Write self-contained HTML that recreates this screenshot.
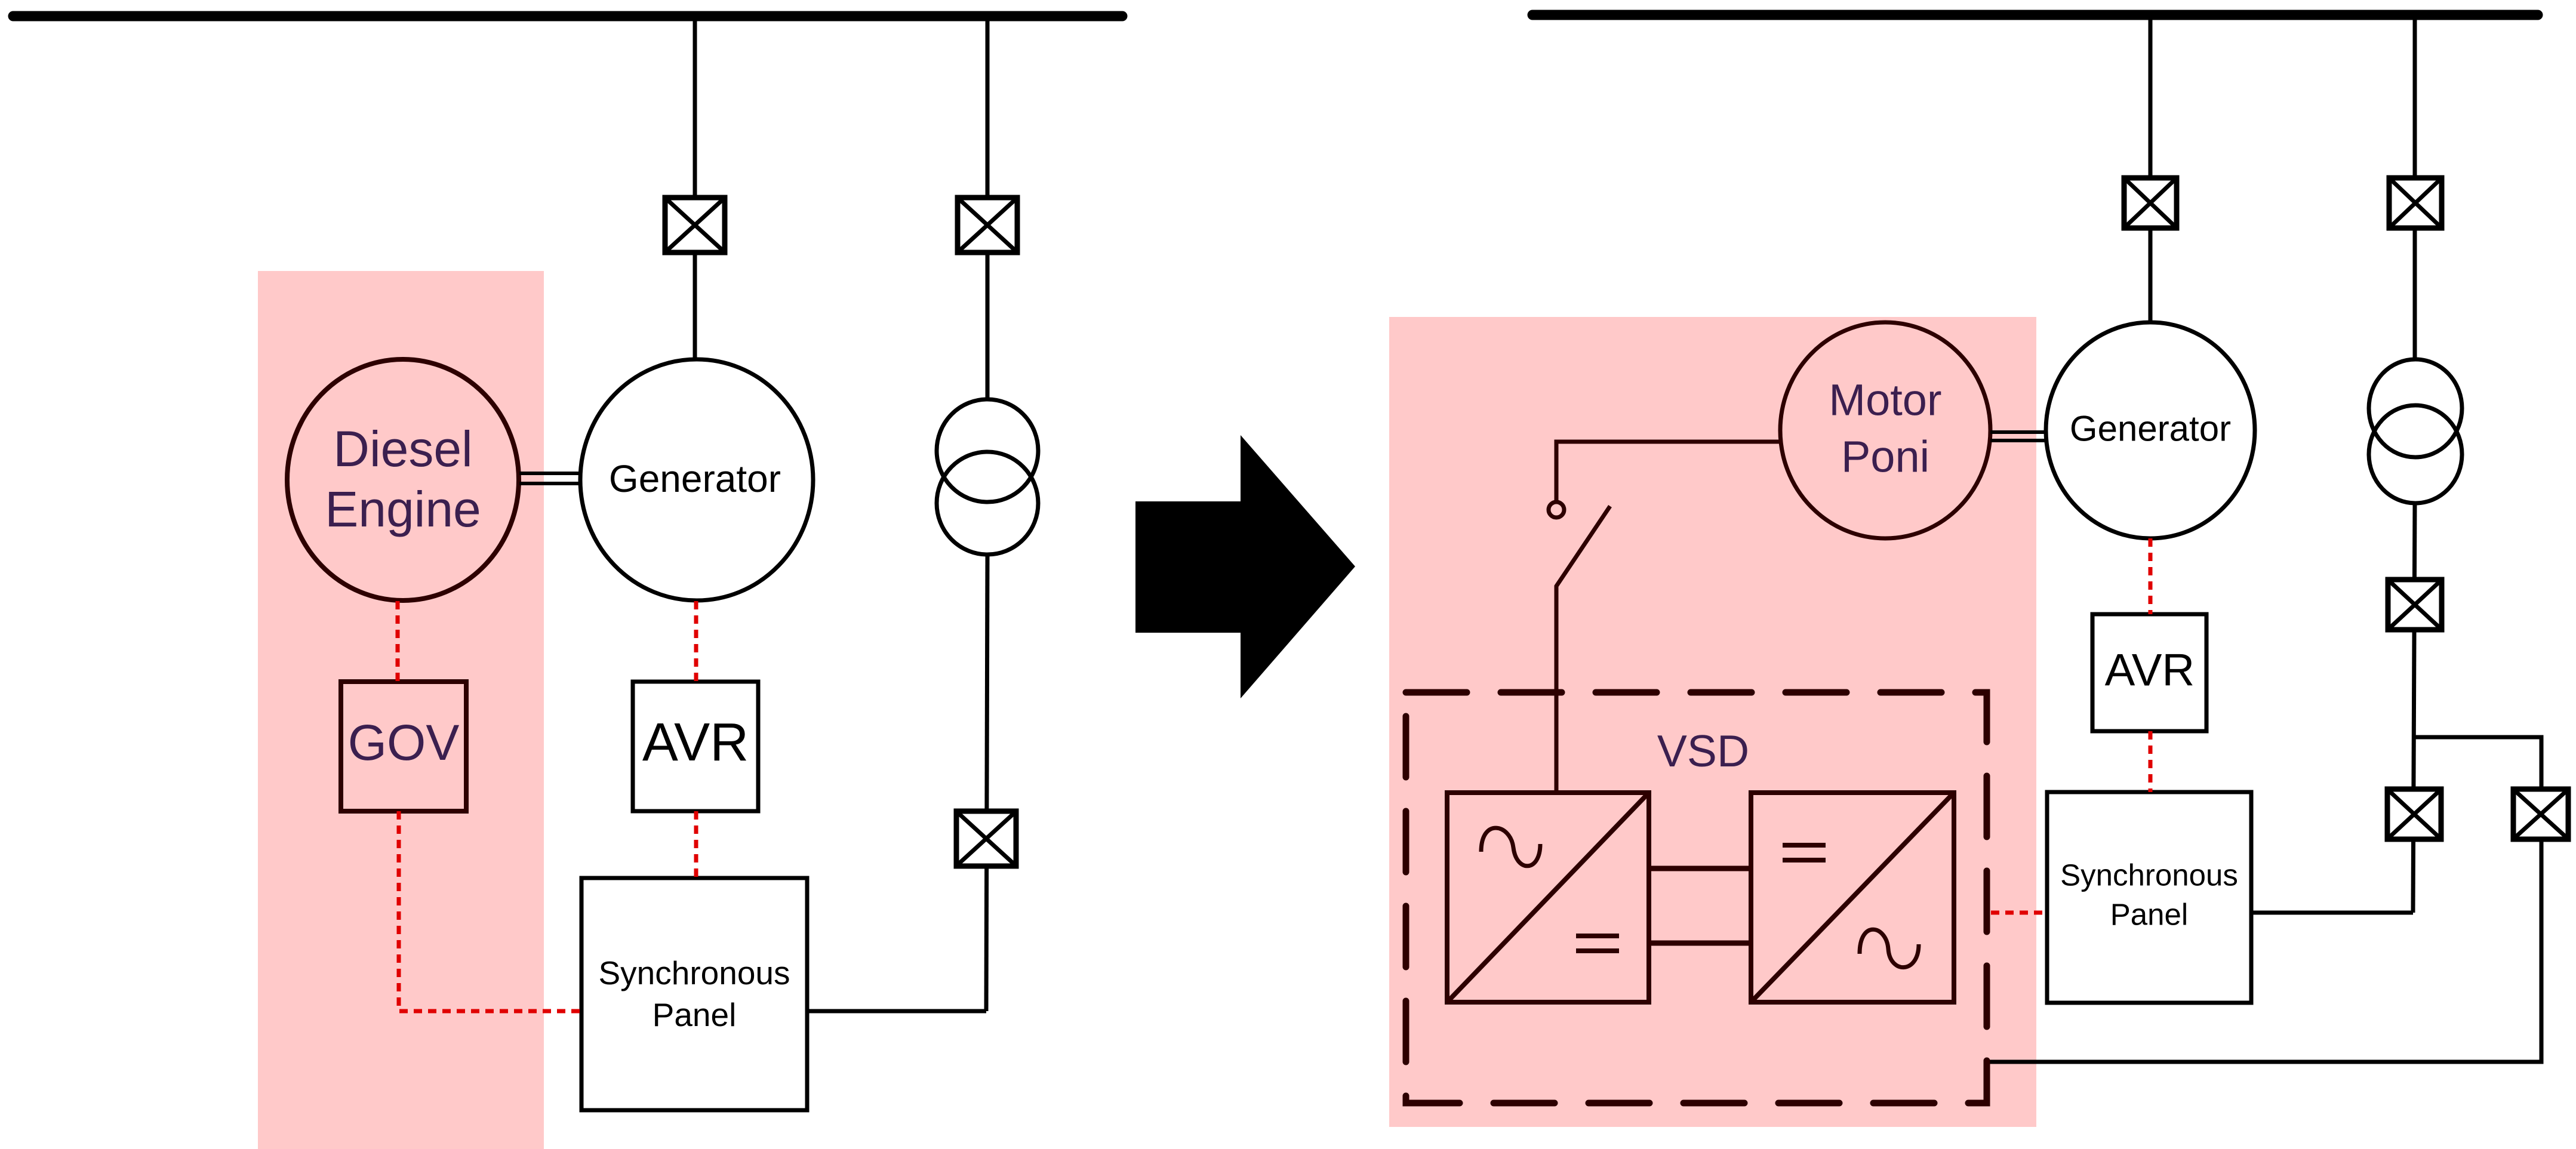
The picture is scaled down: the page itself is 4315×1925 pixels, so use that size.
<!DOCTYPE html>
<html><head><meta charset="utf-8"><style>
html,body{margin:0;padding:0;background:#fff;}
svg{display:block;}
text{font-family:"Liberation Sans",Arial,sans-serif;text-anchor:middle;dominant-baseline:central;}
</style></head><body>
<svg width="4315" height="1925" viewBox="0 0 4315 1925" xmlns="http://www.w3.org/2000/svg">
<rect x="432" y="454" width="479" height="1471" fill="#ffc9c9"/>
<rect x="2327" y="531" width="1084" height="1357" fill="#ffc9c9"/>

<line x1="22" y1="27" x2="1880" y2="27" stroke="#000" stroke-width="17" stroke-linecap="round"/>
<g stroke="#000" stroke-width="7" fill="none">
  <line x1="1164" y1="27" x2="1164" y2="602"/>
  <line x1="1654" y1="27" x2="1654" y2="669"/>
  <line x1="1654" y1="929" x2="1652" y2="1694"/>
  <line x1="1652" y1="1694" x2="1352" y2="1694"/>
  <rect x="1114" y="331" width="100" height="92" fill="#fff" stroke-width="9"/>
  <line x1="1118" y1="335" x2="1210" y2="419"/><line x1="1210" y1="335" x2="1118" y2="419"/>
  <rect x="1604" y="331" width="100" height="92" fill="#fff" stroke-width="9"/>
  <line x1="1608" y1="335" x2="1700" y2="419"/><line x1="1700" y1="335" x2="1608" y2="419"/>
  <rect x="1602" y="1359" width="100" height="92" fill="#fff" stroke-width="9"/>
  <line x1="1606" y1="1363" x2="1698" y2="1447"/><line x1="1698" y1="1363" x2="1606" y2="1447"/>
  <ellipse cx="1654" cy="755" rx="85" ry="86"/>
  <ellipse cx="1654" cy="843" rx="85" ry="86"/>
  <ellipse cx="1167" cy="804" rx="195" ry="202" fill="#fff"/>
  <rect x="1060" y="1142" width="210" height="217" fill="#fff"/>
  <rect x="974" y="1471" width="378" height="389" fill="#fff"/>
</g>
<ellipse cx="675" cy="804" rx="194" ry="202" fill="#ffc9c9" stroke="#2d0000" stroke-width="8"/>
<line x1="870" y1="793" x2="971" y2="793" stroke="#000" stroke-width="6"/>
<line x1="870" y1="810" x2="971" y2="810" stroke="#000" stroke-width="6"/>
<rect x="571" y="1142" width="210" height="217" fill="none" stroke="#2d0000" stroke-width="8"/>
<g stroke="#e00000" stroke-width="7" stroke-dasharray="14 10" fill="none">
  <line x1="666" y1="1007" x2="666" y2="1142"/>
  <line x1="1166" y1="1007" x2="1166" y2="1142"/>
  <line x1="1166" y1="1359" x2="1166" y2="1471"/>
  <polyline points="668,1359 668,1694 974,1694"/>
</g>
<text x="675" y="752" font-size="84" fill="#3b1f4f">Diesel</text>
<text x="675" y="853" font-size="84" fill="#3b1f4f">Engine</text>
<text x="1164" y="802" font-size="64" fill="#000">Generator</text>
<text x="676" y="1244" font-size="84" fill="#3b1f4f">GOV</text>
<text x="1165" y="1244" font-size="90" fill="#000">AVR</text>
<text x="1163" y="1630" font-size="55" fill="#000">Synchronous</text>
<text x="1163" y="1700" font-size="55" fill="#000">Panel</text>

<polygon points="1902,840 2078,840 2078,729 2270,949 2078,1170 2078,1060 1902,1060" fill="#000"/>

<line x1="2567" y1="25" x2="4251" y2="25" stroke="#000" stroke-width="17" stroke-linecap="round"/>
<g stroke="#000" stroke-width="7" fill="none">
  <line x1="3602" y1="25" x2="3602" y2="540"/>
  <line x1="4045" y1="25" x2="4045" y2="602"/>
  <line x1="4045" y1="841" x2="4042" y2="1529"/>
  <line x1="4042" y1="1529" x2="3771" y2="1529"/>
  <polyline points="4042,1235 4257,1235 4257,1779 3329,1779 3329,1848"/>
  <rect x="3558" y="298" width="88" height="84" fill="#fff" stroke-width="9"/>
  <line x1="3562" y1="302" x2="3642" y2="378"/><line x1="3642" y1="302" x2="3562" y2="378"/>
  <rect x="4002" y="298" width="88" height="84" fill="#fff" stroke-width="9"/>
  <line x1="4006" y1="302" x2="4086" y2="378"/><line x1="4086" y1="302" x2="4006" y2="378"/>
  <rect x="4000" y="971" width="90" height="84" fill="#fff" stroke-width="9"/>
  <line x1="4004" y1="975" x2="4086" y2="1051"/><line x1="4086" y1="975" x2="4004" y2="1051"/>
  <rect x="3999" y="1322" width="90" height="84" fill="#fff" stroke-width="9"/>
  <line x1="4003" y1="1326" x2="4085" y2="1402"/><line x1="4085" y1="1326" x2="4003" y2="1402"/>
  <rect x="4210" y="1322" width="92" height="84" fill="#fff" stroke-width="9"/>
  <line x1="4214" y1="1326" x2="4298" y2="1402"/><line x1="4298" y1="1326" x2="4214" y2="1402"/>
  <ellipse cx="4046" cy="684" rx="78" ry="82"/>
  <ellipse cx="4046" cy="761" rx="78" ry="82"/>
  <ellipse cx="3602" cy="721" rx="175" ry="181" fill="#fff"/>
  <rect x="3505" y="1029" width="191" height="196" fill="#fff"/>
  <rect x="3429" y="1327" width="342" height="353" fill="#fff"/>
</g>
<g stroke="#2d0000" stroke-width="7" fill="none">
  <ellipse cx="3158" cy="721" rx="176" ry="181" fill="#ffc9c9"/>
  <polyline points="2982,740 2607,740 2607,841"/>
  <circle cx="2607" cy="854" r="13"/>
  <polyline points="2697,848 2607,982 2607,1328"/>
  <rect x="2424" y="1328" width="338" height="351" stroke-width="8"/>
  <line x1="2424" y1="1679" x2="2762" y2="1328" stroke-width="8"/>
  <rect x="2933" y="1328" width="340" height="351" stroke-width="8"/>
  <line x1="2933" y1="1679" x2="3273" y2="1328" stroke-width="8"/>
  <line x1="2762" y1="1455" x2="2933" y2="1455" stroke-width="9"/>
  <line x1="2762" y1="1580" x2="2933" y2="1580" stroke-width="9"/>
  <line x1="2640" y1="1568" x2="2712" y2="1568" stroke-width="8"/>
  <line x1="2640" y1="1593" x2="2712" y2="1593" stroke-width="8"/>
  <line x1="2986" y1="1416" x2="3058" y2="1416" stroke-width="8"/>
  <line x1="2986" y1="1441" x2="3058" y2="1441" stroke-width="8"/>
  <path d="M2481,1427 C2481,1370 2530,1380 2535,1420 C2540,1462 2580,1462 2580,1414" stroke-width="7"/>
  <path d="M3115,1598 C3115,1540 3160,1550 3163,1590 C3166,1632 3214,1632 3214,1582" stroke-width="7"/>
  <rect x="2355" y="1160" width="973" height="688" stroke-width="11" stroke-dasharray="102 57" stroke-linecap="round" stroke="#2d0000"/>
</g>
<line x1="3334" y1="724" x2="3427" y2="724" stroke="#000" stroke-width="6"/>
<line x1="3334" y1="738" x2="3427" y2="738" stroke="#000" stroke-width="6"/>
<g stroke="#e00000" stroke-width="7" stroke-dasharray="14 10" fill="none">
  <line x1="3602" y1="902" x2="3602" y2="1029"/>
  <line x1="3602" y1="1225" x2="3602" y2="1327"/>
  <line x1="3335" y1="1529" x2="3429" y2="1529"/>
</g>
<text x="3158" y="670" font-size="74" fill="#3b1f4f">Motor</text>
<text x="3158" y="765" font-size="74" fill="#3b1f4f">Poni</text>
<text x="3602" y="718" font-size="60" fill="#000">Generator</text>
<text x="3601" y="1123" font-size="76" fill="#000">AVR</text>
<text x="3600" y="1466" font-size="51" fill="#000">Synchronous</text>
<text x="3600" y="1532" font-size="51" fill="#000">Panel</text>
<text x="2853" y="1258" font-size="75" fill="#3b1f4f">VSD</text>
</svg>
</body></html>
